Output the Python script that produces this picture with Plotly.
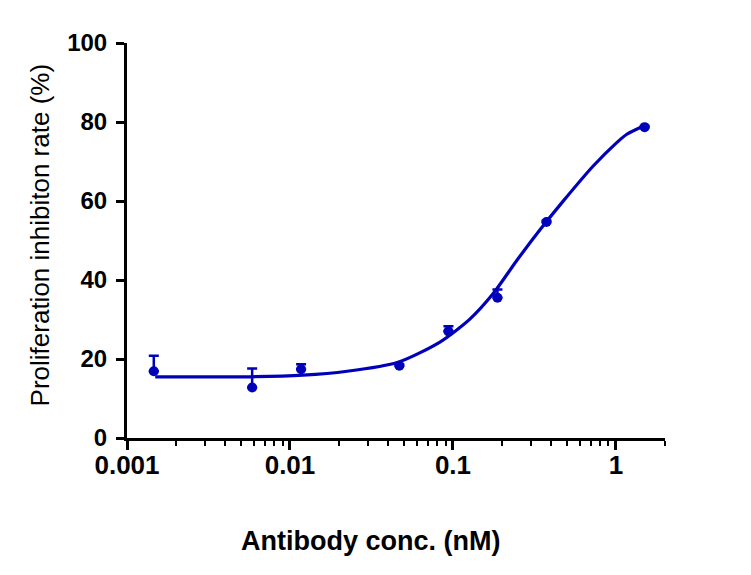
import plotly.graph_objects as go

# Measured points
conc = [0.00146, 0.00586, 0.0117, 0.0469, 0.0938, 0.1875, 0.375, 1.5]
inhibition = [16.9, 12.8, 17.4, 18.3, 27.0, 35.5, 54.7, 78.7]
err_upper = [3.9, 4.8, 1.3, 0.3, 1.3, 2.1, 0.3, 0.3]

# Fitted curve
fit_x = [0.00149, 0.00569, 0.0120, 0.0224, 0.0461, 0.0832, 0.127, 0.176,
         0.247, 0.342, 0.473, 0.723, 1.000, 1.167, 1.445]
fit_y = [15.5, 15.5, 15.9, 16.9, 19.2, 24.3, 30.1, 36.5,
         45.0, 52.7, 59.9, 68.8, 74.6, 76.9, 78.8]

x_tickvals = [0.001, 0.01, 0.1, 1]
x_ticktext = ["0.001", "0.01", "0.1", "1"]
y_tickvals = [0, 20, 40, 60, 80, 100]

BLUE = "#0000BB"
FONT = "Liberation Sans, Arial, sans-serif"

fig = go.Figure()
fig.add_trace(go.Scatter(
    x=fit_x, y=fit_y, mode="lines",
    line=dict(color=BLUE, width=3.2, shape="spline", smoothing=0.7),
    hoverinfo="skip", showlegend=False,
))
fig.add_trace(go.Scatter(
    x=conc, y=inhibition, mode="markers",
    marker=dict(color=BLUE, size=10),
    error_y=dict(type="data", symmetric=False, array=err_upper,
                 arrayminus=[0] * len(err_upper),
                 color=BLUE, thickness=2.5, width=5),
    showlegend=False,
))

fig.update_layout(
    width=751, height=575,
    margin=dict(l=119, r=94, t=35, b=145),
    paper_bgcolor="white", plot_bgcolor="white",
    font=dict(family=FONT, color="black"),
    annotations=[dict(
        text="<b>Antibody conc. (nM)</b>", xref="paper", yref="paper",
        x=0.4535, y=-0.2608, xanchor="center", yanchor="middle",
        showarrow=False, font=dict(family=FONT, size=27, color="black"),
    ), dict(
        text="Proliferation inhibiton rate (%)", xref="paper", yref="paper",
        x=-0.162, y=0.515, xanchor="center", yanchor="middle", textangle=-90,
        showarrow=False, font=dict(family=FONT, size=26, color="black"),
    )],
)
fig.update_xaxes(
    type="log", range=[-3, 0.30103],
    tickvals=x_tickvals, ticktext=x_ticktext,
    ticks="outside", ticklen=9, tickwidth=2.5, tickcolor="black",
    minor=dict(ticks="outside", ticklen=5, tickwidth=2, tickcolor="black",
               dtick="D1", showgrid=False),
    showline=True, linecolor="black", linewidth=3,
    showgrid=False, zeroline=False,
    ticklabelstandoff=-7,
    tickfont=dict(family=FONT, size=26, color="black", weight="bold"),
)
fig.update_yaxes(
    range=[0, 100], tickvals=y_tickvals,
    ticks="outside", ticklen=8, tickwidth=2.5, tickcolor="black",
    showline=True, linecolor="black", linewidth=3,
    showgrid=False, zeroline=False,
    ticklabelstandoff=4,
    tickfont=dict(family=FONT, size=24, color="black", weight="bold"),
)

fig.write_html("out.html")
